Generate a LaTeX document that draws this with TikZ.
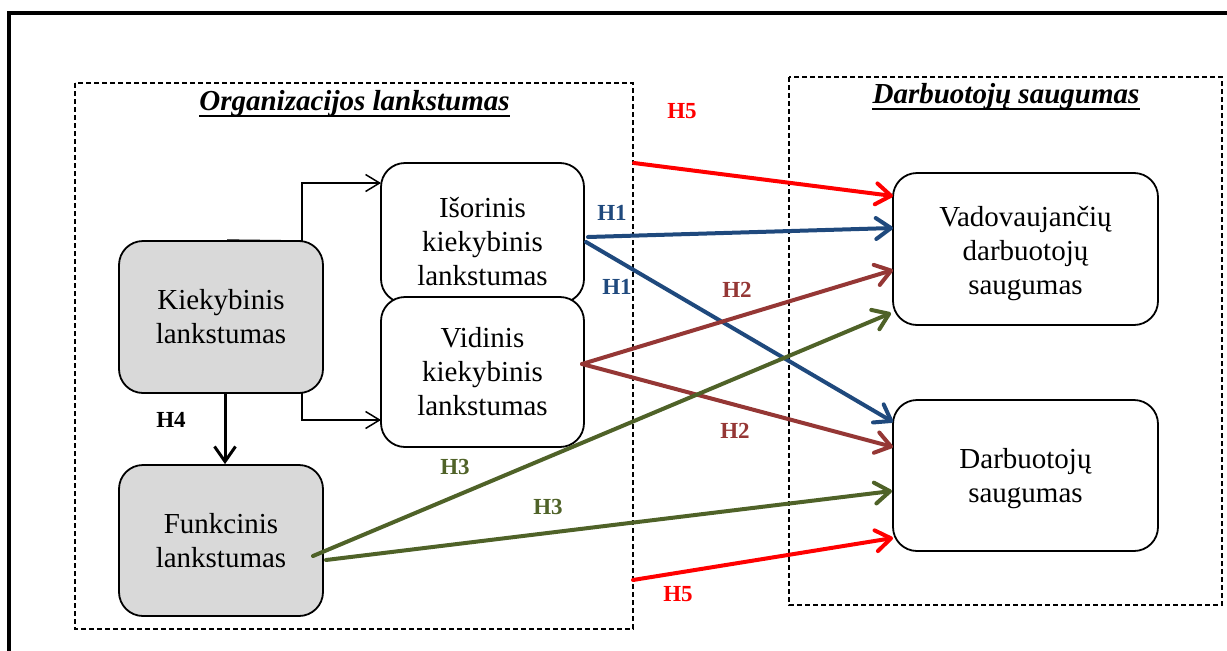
\documentclass[tikz,border=0pt]{standalone}
\usepackage{fontspec}
\setmainfont{Liberation Serif}
\usetikzlibrary{arrows.meta}

\definecolor{hred}{HTML}{FF0000}
\definecolor{hblue}{HTML}{1F497D}
\definecolor{hbrown}{HTML}{953735}
\definecolor{hgreen}{HTML}{4F6228}
\definecolor{boxgray}{HTML}{D9D9D9}

% invisible strut that sets the height of a box's first line
\newcommand{\firstline}[1]{\rule{0pt}{#1}}

\begin{document}
\begin{tikzpicture}[x=1pt,y=-1pt,
  box/.style={draw, line width=1.8pt, rounded corners=24pt, fill=white,
    align=center, inner sep=0pt, font=\fontsize{29}{34}\selectfont},
  graybox/.style={box, fill=boxgray},
  group/.style={draw, line width=1.8pt, dash pattern=on 5pt off 3pt},
  grouptitle/.style={anchor=base, inner sep=0pt,
    font=\fontsize{29}{34}\selectfont\bfseries\itshape},
  hyp/.style={font=\fontsize{23}{26}\selectfont\bfseries, inner sep=0pt},
  thinarrow/.style={draw, line width=1.5pt,
    -{Straight Barb[length=14pt,width=17pt,line width=1.5pt]}},
  hyparrow/.style={draw, line width=4pt, line cap=round,
    -{Straight Barb[length=15pt,width=21pt,line width=4pt,round]}},
]
\useasboundingbox (0,0) rectangle (1227,651);
\clip (0,0) rectangle (1227,651);

% outer frame
\draw[line width=4pt] (9,13) rectangle (1250,680);

% grouping frames
\draw[group] (75,83) rectangle (633,629);
\draw[group] (789,77) rectangle (1222,605);

\node[grouptitle] (torg) at (354.5,110) {Organizacijos lankstumas};
\draw[line width=2.6pt] ([yshift=-6pt]torg.base west) -- ([yshift=-6pt]torg.base east);
\node[grouptitle] (tdarb) at (1006,103) {Darbuotojų saugumas};
\draw[line width=2.6pt] ([yshift=-6pt]tdarb.base west) -- ([yshift=-6pt]tdarb.base east);

% boxes
\node[graybox, minimum width=204pt, minimum height=152pt] (kiek) at (221,317) {Kiekybinis\\lankstumas};
\node[graybox, minimum width=204pt, minimum height=151pt] (funk) at (221,540.5) {Funkcinis\\lankstumas};
\node[box, minimum width=203pt, minimum height=140pt] (iso) at (482.5,233) {\firstline{38pt}Išorinis\\kiekybinis\\lankstumas};
\node[box, minimum width=203pt, minimum height=150pt] (vid) at (482.5,372) {Vidinis\\kiekybinis\\lankstumas};
\node[box, minimum width=265pt, minimum height=152pt] (vad) at (1025.5,249) {\firstline{30pt}Vadovaujančių\\darbuotojų\\saugumas};
\node[box, minimum width=265pt, minimum height=151pt] (darb) at (1025.5,475.5) {\firstline{26pt}Darbuotojų\\saugumas};

% attachment points
\coordinate (isoin) at (381,183);
\coordinate (vidin) at (381,420);
\coordinate (kiekup) at (302,241);
\coordinate (kiekdown) at (302,393);
\coordinate (h5a) at (634,163);
\coordinate (h5b) at (633,580);
\coordinate (isoout1) at (588,237);
\coordinate (isoout2) at (586,242);
\coordinate (vidout) at (582,364);
\coordinate (funkout1) at (313,556);
\coordinate (funkout2) at (326,560);
\coordinate (vadin1) at (893,196);
\coordinate (vadin2) at (893,228);
\coordinate (vadin3) at (893,270);
\coordinate (vadin4) at (891,313);
\coordinate (darbin1) at (893,422);
\coordinate (darbin2) at (893,447);
\coordinate (darbin3) at (892,491);
\coordinate (darbin4) at (893,538);

% quantitative flexibility splits
\draw[line width=1.5pt] ([xshift=6pt]kiek.north) -- (kiekup);
\draw[thinarrow] (kiekup) |- (isoin);
\draw[thinarrow] (kiekdown) |- (vidin);
\draw[line width=3pt, -{Straight Barb[length=15pt,width=21pt,line width=3pt]}]
  ([xshift=4pt]kiek.south) -- ([xshift=4pt]funk.north);
\node[hyp] (lh4) at (171,420) {H4};

% hypotheses
\draw[hyparrow, hred] (h5a) -- (vadin1);
\draw[hyparrow, hblue] (isoout1) -- (vadin2);
\draw[hyparrow, hblue] (isoout2) -- (darbin1);
\draw[hyparrow, hbrown] (vidout) -- (vadin3);
\draw[hyparrow, hbrown] (vidout) -- (darbin2);
\draw[hyparrow, hgreen] (funkout1) -- (vadin4);
\draw[hyparrow, hgreen] (funkout2) -- (darbin3);
\draw[hyparrow, hred] (h5b) -- (darbin4);

\node[hyp, hred] (lh5a) at (682,111) {H5};
\node[hyp, hblue] (lh1a) at (612,213) {H1};
\node[hyp, hblue] (lh1b) at (617,287) {H1};
\node[hyp, hbrown] (lh2a) at (737,290) {H2};
\node[hyp, hbrown] (lh2b) at (735,431) {H2};
\node[hyp, hgreen] (lh3a) at (455,467) {H3};
\node[hyp, hgreen] (lh3b) at (548,507) {H3};
\node[hyp, hred] (lh5b) at (678,594) {H5};
\end{tikzpicture}
\end{document}
